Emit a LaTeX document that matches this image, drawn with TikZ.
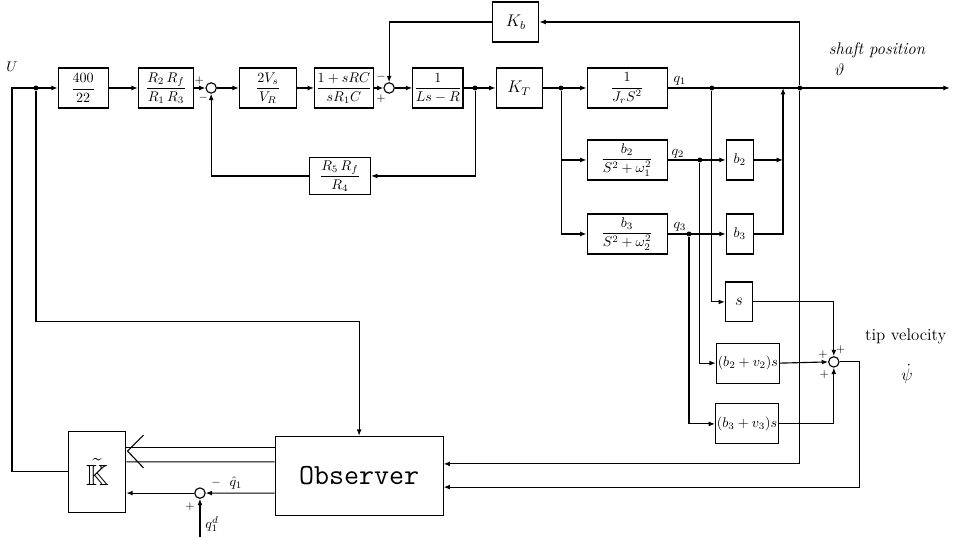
\documentclass[tikz,border=0pt]{standalone}
\usepackage{amsmath,amssymb}
\usetikzlibrary{arrows.meta, positioning}
\begin{document}
\begin{tikzpicture}[
  line width=0.8pt,
  blk/.style={draw, minimum height=1.0cm, align=center, inner xsep=1pt, inner ysep=2pt},
  sumc/.style={draw, circle, minimum size=0.26cm, inner sep=0pt},
  jdot/.style={circle, fill, inner sep=0pt, minimum size=3.5pt},
  arr/.style={-{Latex[length=4.5pt, width=3.5pt]}},
  sgn/.style={font=\footnotesize, inner sep=0pt},
  lbl/.style={inner sep=1pt}
]
\useasboundingbox (0,0) rectangle (23.83,-13.43);

% forward path
\node[lbl] (U) at (0.30,-1.68) {$U$};
\node[jdot] (j0) at (0.90,-2.20) {};
\node[blk, minimum width=1.25cm] (b400) at (2.08,-2.20) {$\dfrac{400}{22}$};
\node[blk, minimum width=1.38cm] (bR) at (4.15,-2.20) {$\dfrac{R_2\,R_f}{R_1\,R_3}$};
\node[sumc] (s1) at (5.28,-2.20) {};
\node[sgn] at (4.98,-2.03) {$+$};
\node[sgn] at (5.08,-2.45) {$-$};
\node[blk, minimum width=1.43cm] (b2V) at (6.70,-2.20) {$\dfrac{2V_s}{V_R}$};
\node[blk, minimum width=1.40cm] (bRC) at (8.60,-2.20) {$\dfrac{1+sRC}{sR_1C}$};
\node[sumc] (s2) at (9.73,-2.20) {};
\node[sgn] at (9.53,-1.93) {$-$};
\node[sgn] at (9.53,-2.47) {$+$};
\node[blk, minimum width=1.18cm] (bL) at (10.95,-2.20) {$\dfrac{1}{Ls-R}$};
\node[jdot] (j1) at (11.88,-2.20) {};
\node[blk, minimum width=1.15cm, font=\large] (bKT) at (12.98,-2.20) {$K_T$};
\node[jdot] (j2) at (14.03,-2.20) {};
\node[blk, minimum width=2.0cm] (bJ) at (15.68,-2.20) {$\dfrac{1}{J_r S^2}$};
\node[blk, minimum width=1.53cm, minimum height=0.93cm] (bR5) at (8.50,-4.40) {$\dfrac{R_5\,R_f}{R_4}$};
\node[blk, minimum width=1.15cm, font=\large] (bKb) at (12.90,-0.55) {$K_b$};

% flexible modes
\node[blk, minimum width=2.0cm] (bF1) at (15.68,-4.00) {$\dfrac{b_2}{S^2+\omega_1^2}$};
\node[blk, minimum width=2.0cm] (bF2) at (15.68,-5.85) {$\dfrac{b_3}{S^2+\omega_2^2}$};
\node[lbl] at (17.00,-2.03) {$q_1$};
\node[lbl] at (16.95,-3.85) {$q_2$};
\node[lbl] at (17.00,-5.68) {$q_3$};
\node[jdot] (jq1) at (17.80,-2.20) {};
\node[jdot] (jq2) at (17.50,-4.00) {};
\node[jdot] (jq3) at (17.23,-5.85) {};
\node[blk, minimum width=0.68cm] (bb2) at (18.50,-4.00) {$b_2$};
\node[blk, minimum width=0.68cm] (bb3) at (18.50,-5.85) {$b_3$};
\coordinate (cC) at (19.58,-2.20);
\node[jdot] (jS) at (20.00,-2.20) {};
\coordinate (cEnd) at (23.75,-2.20);
\node[font=\large\itshape] at (21.93,-1.25) {shaft position};
\node[font=\large] at (21.00,-1.75) {$\vartheta$};

% tip velocity
\node[blk, minimum width=0.68cm, font=\large] (bs) at (18.48,-7.55) {$s$};
\node[blk, minimum width=1.50cm] (bv2) at (18.70,-9.08) {$(b_2+v_2)s$};
\node[blk, minimum width=1.53cm] (bv3) at (18.68,-10.60) {$(b_3+v_3)s$};
\node[sumc] (s3) at (20.85,-9.05) {};
\node[sgn] at (21.02,-8.75) {$+$};
\node[sgn] at (20.58,-8.88) {$+$};
\node[sgn] at (20.61,-9.38) {$+$};
\coordinate (cT) at (21.50,-9.05);
\node[font=\large] at (22.65,-8.42) {tip velocity};
\node[font=\large] at (22.68,-9.35) {$\dot{\psi}$};

% observer and gain
\node[draw, minimum width=4.2cm, minimum height=1.98cm, font=\huge\ttfamily] (obs) at (8.98,-11.90) {Observer};
\node[draw, minimum width=1.43cm, minimum height=2.03cm, font=\huge] (kt) at (2.43,-11.80) {$\tilde{\mathbb{K}}$};
\node[sumc] (s4) at (5.00,-12.33) {};
\node[sgn] at (5.40,-12.08) {$-$};
\node[lbl] at (5.90,-12.08) {$\hat{q}_1$};
\node[sgn] at (4.75,-12.68) {$+$};
\node[lbl] at (5.30,-13.10) {$q_1^d$};
\coordinate (cD) at (5.00,-13.43);
\coordinate (cU) at (0.30,-2.20);
\coordinate (cObs) at (0.90,-8.05);

% connectors
\draw[arr] (kt.west) -| (cU) -- (b400.west);
\draw[arr] (j0) -- (cObs) -| (obs.north);
\draw[arr] (b400) -- (bR);
\draw[arr] (bR) -- (s1);
\draw[arr] (s1) -- (b2V);
\draw[arr] (b2V) -- (bRC);
\draw[arr] (bRC) -- (s2);
\draw[arr] (s2) -- (bL);
\draw[arr] (bL) -- (bKT);
\draw[arr] (bKT) -- (bJ);
\draw[arr] (j1) |- (bR5.east);
\draw[arr] (bR5.west) -| (s1.south);
\draw[arr] (jS) |- (bKb.east);
\draw[arr] (bKb.west) -| (s2.north);
\draw[arr] (j2) |- (bF1.west);
\draw[arr] (j2) |- (bF2.west);
\draw[arr] (bJ) -- (cEnd);
\draw[arr] (bF1) -- (bb2);
\draw[arr] (bF2) -- (bb3);
\draw[arr] (bb2.east) -- (bb2.east -| cC);
\draw[arr] (bb3.east) -| (cC);
\draw[arr] (jq1) |- (bs.west);
\draw[arr] (jq2) |- (bv2.west);
\draw[arr] (jq3) |- (bv3.west);
\draw[arr] (bs.east) -| (s3.north);
\draw[arr] (bv2.east) -- (s3.west);
\draw[arr] (bv3.east) -| (s3.south);
\draw[arr] (jS) |- ([yshift=0.30cm]obs.east);
\draw[arr] (s3.east) -- (cT) |- ([yshift=-0.28cm]obs.east);
\draw ([yshift=0.70cm]obs.west) -- ([yshift=0.60cm]kt.east);
\draw ([yshift=0.35cm]obs.west) -- ([yshift=0.25cm]kt.east);
\draw ([shift={(0.43,0.92)}]kt.east) -- ([shift={(0.03,0.52)}]kt.east) -- ([shift={(0.43,0.10)}]kt.east);
\draw[arr] ([yshift=-0.43cm]obs.west) -- (s4.east);
\draw[arr] (s4.west) -- ([yshift=-0.53cm]kt.east);
\draw[arr] (cD) -- (s4.south);

\end{tikzpicture}
\end{document}
